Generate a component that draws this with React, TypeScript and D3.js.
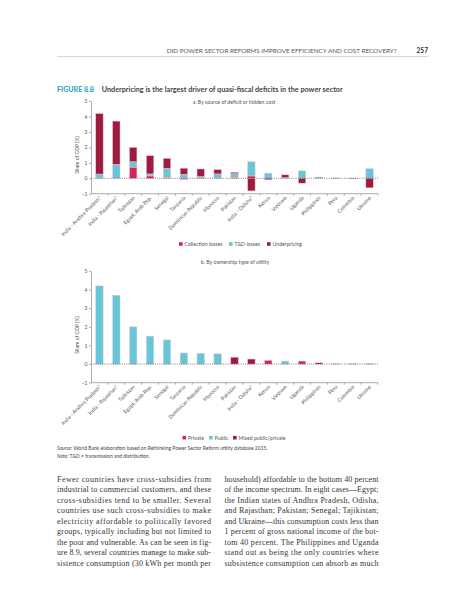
import { useEffect, useRef } from "react";
import * as d3 from "d3";

// ---- data ----
const countries = [
  "India - Andhra Pradesh*",
  "India - Rajasthan*",
  "Tajikistan",
  "Egypt, Arab Rep.",
  "Senegal",
  "Tanzania",
  "Dominican Republic",
  "Morocco",
  "Pakistan",
  "India - Odisha*",
  "Kenya",
  "Vietnam",
  "Uganda",
  "Philippines",
  "Peru",
  "Colombia",
  "Ukraine",
];

// panel a: share of GDP (%) by source of deficit
const collectionLosses = [0.02, 0, 0.72, 0.15, 0.05, -0.08, 0.02, 0, 0.05, 0.15, 0, 0, 0, 0, 0, 0, 0];
const tdLosses = [0.25, 0.9, 0.35, 0.13, 0.6, 0.26, 0.1, 0.28, 0.25, 0.92, 0.33, 0.05, 0.48, 0.08, 0, 0, 0.62];
const underpricing = [3.92, 2.8, 0.93, 1.18, 0.64, 0.39, 0.48, 0.28, 0.09, -0.82, -0.1, 0.17, -0.32, 0, 0.02, -0.03, -0.62];

// panel b: share of GDP (%) by ownership type of utility
const privateOwned = [0, 0, 0, 0, 0, 0, 0, 0, 0, 0, 0.2, 0, 0.16, 0, 0.02, 0, 0.02];
const publicOwned = [4.2, 3.7, 2.0, 1.5, 1.3, 0.6, 0.58, 0.55, 0, 0, 0, 0.16, 0, 0, 0, 0, 0];
const mixedOwned = [0, 0, 0, 0, 0, 0, 0, 0, 0.37, 0.27, 0, 0, 0, 0.07, 0, 0.02, 0];

const yTicks = [-1, 0, 1, 2, 3, 4, 5];

const legendA = ["Collection losses", "T&D losses", "Underpricing"];
const legendB = ["Private", "Public", "Mixed public/private"];

const leftColumn = [
  "Fewer countries have cross-subsidies from",
  "industrial to commercial customers, and these",
  "cross-subsidies tend to be smaller. Several",
  "countries use such cross-subsidies to make",
  "electricity affordable to politically favored",
  "groups, typically including but not limited to",
  "the poor and vulnerable. As can be seen in fig-",
  "ure 8.9, several countries manage to make sub-",
  "sistence consumption (30 kWh per month per",
];
const rightColumn = [
  "household) affordable to the bottom 40 percent",
  "of the income spectrum. In eight cases\u2014Egypt;",
  "the Indian states of Andhra Pradesh, Odisha,",
  "and Rajasthan; Pakistan; Senegal; Tajikistan;",
  "and Ukraine\u2014this consumption costs less than",
  "1 percent of gross national income of the bot-",
  "tom 40 percent. The Philippines and Uganda",
  "stand out as being the only countries where",
  "subsistence consumption can absorb as much",
];

const CRIMSON = "#d6245a";
const TEAL = "#66c7d9";
const MAROON = "#9c1b3f";
const SANS = "Lato, 'Open Sans', sans-serif";
const W = 457;
const H = 600;

interface PanelOpts {
  top: number; // pixel of y = 5
  bottom: number; // pixel of y = -1
  series: number[][];
  colors: string[];
  labelCenter: number;
}

function drawPanel(svg: d3.Selection<SVGSVGElement, unknown, null, undefined>, o: PanelOpts) {
  const left = 91;
  const right = 378;
  const x = d3.scaleBand<string>().domain(countries).range([left, right]).paddingInner(0.56).paddingOuter(0.28);
  const y = d3.scaleLinear().domain([-1, 5]).range([o.bottom, o.top]);
  const g = svg.append("g");

  const rows = countries.map((c, i) => ({ country: c, s0: o.series[0][i], s1: o.series[1][i], s2: o.series[2][i] }));
  const stack = d3
    .stack<(typeof rows)[number]>()
    .keys(["s0", "s1", "s2"])
    .offset(d3.stackOffsetDiverging);
  const layers = stack(rows);

  layers.forEach((layer, li) => {
    g.append("g")
      .selectAll("rect")
      .data(layer.filter((d) => d[1] - d[0] !== 0))
      .join("rect")
      .attr("x", (d) => x(d.data.country)!)
      .attr("width", x.bandwidth())
      .attr("y", (d) => Math.min(y(d[0]), y(d[1])))
      .attr("height", (d) => Math.abs(y(d[0]) - y(d[1])))
      .attr("fill", o.colors[li])
      .attr("stroke", "#f3c4d0")
      .attr("stroke-width", 0.5);
  });

  // zero line
  g.append("line")
    .attr("x1", left)
    .attr("x2", right)
    .attr("y1", y(0))
    .attr("y2", y(0))
    .attr("stroke", "#333")
    .attr("stroke-width", 0.6)
    .attr("stroke-dasharray", "1,1.2");

  // y axis
  const ya = g
    .append("g")
    .attr("transform", `translate(${left},0)`)
    .call(d3.axisLeft(y).tickValues(yTicks).tickSize(2).tickSizeOuter(0).tickPadding(1.5).tickFormat(d3.format("d")));
  ya.select(".domain").attr("stroke", "#777").attr("stroke-width", 0.6);
  ya.selectAll(".tick line").attr("stroke", "#777").attr("stroke-width", 0.6);
  ya.selectAll(".tick text").attr("font-family", SANS).attr("font-size", 5).attr("fill", "#555");

  g.append("text")
    .attr("transform", `translate(79,${o.labelCenter}) rotate(-90)`)
    .attr("text-anchor", "middle")
    .attr("font-family", SANS)
    .attr("font-size", 5)
    .attr("fill", "#555")
    .text("Share of GDP (%)");

  // bottom axis at y = -1 with ticks on band boundaries
  const yb = y(-1);
  g.append("line").attr("x1", left).attr("x2", right).attr("y1", yb).attr("y2", yb).attr("stroke", "#777").attr("stroke-width", 0.6);
  const step = x.step();
  g.append("g")
    .selectAll("line")
    .data(d3.range(1, countries.length + 1))
    .join("line")
    .attr("x1", (i) => left + i * step)
    .attr("x2", (i) => left + i * step)
    .attr("y1", yb)
    .attr("y2", yb + 2)
    .attr("stroke", "#777")
    .attr("stroke-width", 0.6);

  g.append("g")
    .selectAll("text")
    .data(countries)
    .join("text")
    .attr("transform", (c) => `translate(${x(c)! + x.bandwidth() / 2 + 2},${yb + 4.5}) rotate(-45)`)
    .attr("text-anchor", "end")
    .attr("font-family", SANS)
    .attr("font-size", 5.2)
    .attr("fill", "#555")
    .text((c) => c);
}

function drawLegend(
  svg: d3.Selection<SVGSVGElement, unknown, null, undefined>,
  items: string[],
  colors: string[],
  xs: number[],
  yy: number,
) {
  const g = svg.append("g");
  items.forEach((t, i) => {
    g.append("rect").attr("x", xs[i]).attr("y", yy - 1.8).attr("width", 3.6).attr("height", 3.6).attr("fill", colors[i]);
    g.append("text")
      .attr("x", xs[i] + 5.5)
      .attr("y", yy + 1.8)
      .attr("font-family", SANS)
      .attr("font-size", 5.2)
      .attr("fill", "#555")
      .text(t);
  });
}

export default function App() {
  const svgRef = useRef<SVGSVGElement>(null);

  useEffect(() => {
    if (!svgRef.current) return;
    const svg = d3.select(svgRef.current);
    svg.selectAll("*").remove();

    // running header
    svg.append("text")
      .attr("x", 166.7)
      .attr("y", 52.5)
      .attr("font-family", SANS)
      .attr("font-size", 5.6)
      .attr("fill", "#555")
      .attr("textLength", 230)
      .attr("lengthAdjust", "spacingAndGlyphs")
      .text("DID POWER SECTOR REFORMS IMPROVE EFFICIENCY AND COST RECOVERY?");
    svg.append("text")
      .attr("x", 428)
      .attr("y", 52.8)
      .attr("text-anchor", "end")
      .attr("font-family", SANS)
      .attr("font-weight", 700)
      .attr("font-size", 6.6)
      .attr("fill", "#333")
      .text("257");
    svg.append("line").attr("x1", 57).attr("x2", 428).attr("y1", 56.5).attr("y2", 56.5).attr("stroke", "#ccc").attr("stroke-width", 0.8);

    // figure title
    svg.append("text")
      .attr("x", 57)
      .attr("y", 92.3)
      .attr("font-family", SANS)
      .attr("font-weight", 700)
      .attr("font-size", 6.8)
      .attr("fill", "#2a9cc2")
      .attr("textLength", 37)
      .attr("lengthAdjust", "spacingAndGlyphs")
      .text("FIGURE 8.8");
    svg.append("text")
      .attr("x", 101.7)
      .attr("y", 92.3)
      .attr("font-family", SANS)
      .attr("font-weight", 700)
      .attr("font-size", 6.8)
      .attr("fill", "#444")
      .attr("textLength", 241)
      .attr("lengthAdjust", "spacingAndGlyphs")
      .text("Underpricing is the largest driver of quasi-fiscal deficits in the power sector");

    svg.append("text")
      .attr("x", 234)
      .attr("y", 103.5)
      .attr("text-anchor", "middle")
      .attr("font-family", SANS)
      .attr("font-size", 5.2)
      .attr("fill", "#555")
      .text("a. By source of deficit or hidden cost");

    drawPanel(svg, {
      top: 101,
      bottom: 193.7,
      series: [collectionLosses, tdLosses, underpricing],
      colors: [CRIMSON, TEAL, MAROON],
      labelCenter: 155,
    });
    drawLegend(svg, legendA, [CRIMSON, TEAL, MAROON], [179, 229, 267], 244);

    svg.append("text")
      .attr("x", 235)
      .attr("y", 264)
      .attr("text-anchor", "middle")
      .attr("font-family", SANS)
      .attr("font-size", 5.2)
      .attr("fill", "#555")
      .text("b. By ownership type of utility");

    drawPanel(svg, {
      top: 271,
      bottom: 382.7,
      series: [privateOwned, publicOwned, mixedOwned],
      colors: [CRIMSON, TEAL, MAROON],
      labelCenter: 335,
    });
    drawLegend(svg, legendB, [CRIMSON, TEAL, MAROON], [182.5, 209, 233], 437.7);

    // source and note
    const src = svg.append("text").attr("x", 57).attr("y", 450).attr("font-family", SANS).attr("font-size", 5).attr("fill", "#444");
    src.append("tspan").attr("font-style", "italic").text("Source: ");
    src.append("tspan").text("World Bank elaboration based on Rethinking Power Sector Reform utility database 2015.");
    const note = svg.append("text").attr("x", 57).attr("y", 457.5).attr("font-family", SANS).attr("font-size", 5).attr("fill", "#444");
    note.append("tspan").attr("font-style", "italic").text("Note: ");
    note.append("tspan").text("T&D = transmission and distribution.");

    // body text, justified
    const body = (lines: string[], x0: number) => {
      svg.append("g")
        .selectAll("text")
        .data(lines)
        .join("text")
        .attr("x", x0)
        .attr("y", (_, i) => 482 + i * 10.45)
        .attr("font-family", "'Liberation Serif', 'DejaVu Serif', serif")
        .attr("font-size", 8)
        .attr("fill", "#333")
        .attr("textLength", 154)
        .attr("lengthAdjust", "spacing")
        .text((t) => t);
    };
    body(leftColumn, 57);
    body(rightColumn, 224.5);
  }, []);

  return (
    <div style={{ position: "absolute", left: 0, top: 0, width: W, height: H, background: "#fff" }}>
      <svg ref={svgRef} width={W} height={H} role="img" aria-label="Figure 8.8" />
    </div>
  );
}
